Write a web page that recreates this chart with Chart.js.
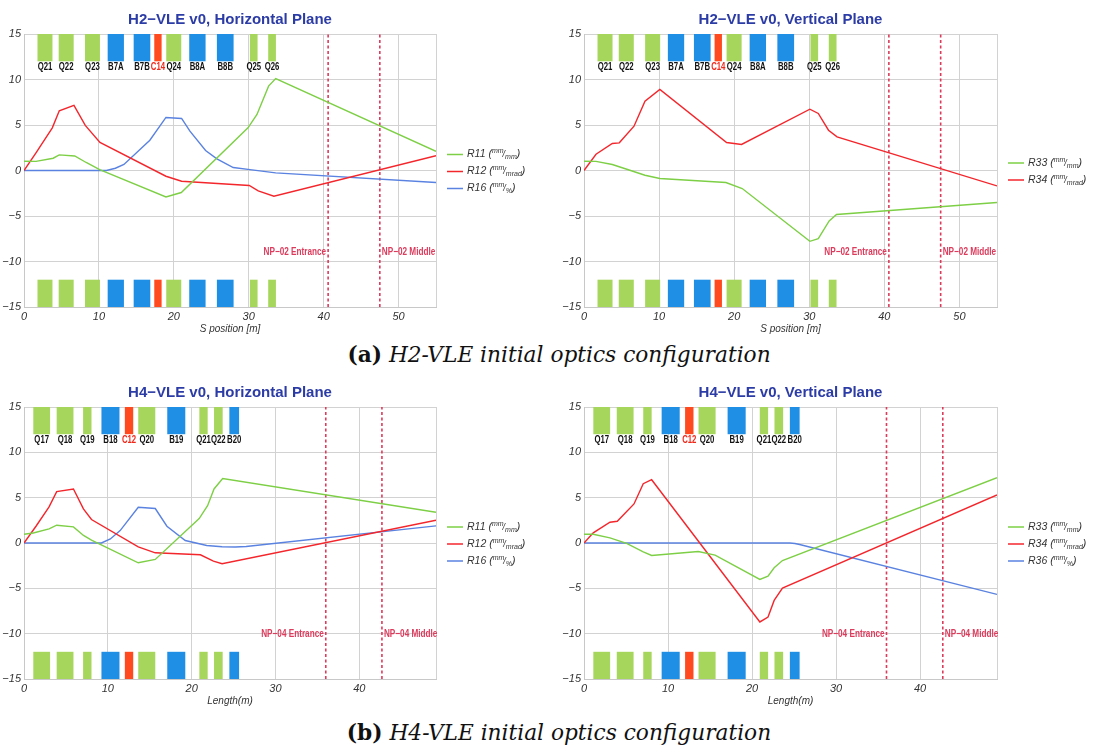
<!DOCTYPE html>
<html>
<head>
<meta charset="utf-8">
<script src="https://cdn.jsdelivr.net/npm/chart.js@4"></script>
<style>
  body { margin: 0; background: #fff; width: 1118px; height: 751px; position: relative; overflow: hidden; }
  canvas { position: absolute; }
  .cap { position: absolute; left: 0; width: 1118px; text-align: center; font-family: "DejaVu Serif", serif; font-size: 21.7px; color: #111; }
  .cap b { font-style: normal; }
  .cap i { font-style: italic; }
</style>
</head>
<body>
<canvas id="h2h" width="560" height="341" style="left:0;top:0"></canvas>
<canvas id="h2v" width="558" height="341" style="left:560px;top:0"></canvas>
<div class="cap" style="top:342px"><b>(a)</b> <i>H2-VLE initial optics configuration</i></div>
<canvas id="h4h" width="560" height="340" style="left:0;top:373px"></canvas>
<canvas id="h4v" width="558" height="340" style="left:560px;top:373px"></canvas>
<div class="cap" style="top:720px"><b>(b)</b> <i>H4-VLE initial optics configuration</i></div>
<script>
// transfer matrix elements along the line, [s (m), value]
var h2hR11 = [[0,1.02],[1.6,1.0],[3.9,1.35],[4.7,1.72],[6.77,1.6],[8.3,0.88],[10.1,0.1],[18.95,-2.9],[21.0,-2.42],[29.9,4.69],[31.1,6.16],[32.65,9.27],[33.6,10.1],[55,2.1]]
var h2hR12 = [[0,0],[1.6,1.94],[3.78,4.69],[4.71,6.56],[6.67,7.15],[8.18,4.95],[10.14,3.08],[18.95,-0.63],[21.04,-1.18],[30.07,-1.65],[31.27,-2.24],[33.36,-2.83],[55,1.62]]
var h2hR16 = [[0,0],[11.0,0],[12.2,0.25],[13.34,0.66],[16.8,3.33],[18.95,5.83],[21.04,5.72],[22.15,4.32],[24.24,2.2],[25.75,1.28],[27.93,0.33],[30.16,0.1],[33.6,-0.26],[55,-1.32]]

var h2vR33 = [[0,1.02],[1.6,1.0],[3.77,0.66],[5.7,0.14],[8.12,-0.52],[10.1,-0.88],[18.9,-1.32],[21.07,-1.98],[30.08,-7.78],[31.2,-7.48],[32.65,-5.54],[33.63,-4.84],[55,-3.52]]
var h2vR34 = [[0,0],[1.6,1.79],[3.77,2.97],[4.7,3.04],[6.66,4.87],[8.12,7.62],[10.1,8.91],[18.99,3.08],[20.98,2.86],[30.08,6.74],[31.2,6.27],[32.56,4.43],[33.7,3.7],[55,-1.69]]

var h4hR11 = [[0,0.97],[1.11,1.1],[2.99,1.56],[3.9,1.96],[5.9,1.78],[7.1,0.83],[8.05,0.31],[13.63,-2.18],[15.66,-1.81],[20.9,2.7],[21.9,4.12],[22.67,5.96],[23.7,7.1],[49.15,3.39]]
var h4hR12 = [[0,0],[1.43,1.85],[2.99,3.98],[3.9,5.67],[5.9,5.96],[7.09,3.76],[8.05,2.59],[13.63,-0.42],[15.66,-1.08],[21.04,-1.3],[22.6,-2.0],[23.63,-2.29],[49.15,2.51]]
var h4hR16 = [[0,0],[9.24,0],[10.3,0.45],[11.47,1.37],[13.63,3.94],[15.66,3.8],[17.05,1.85],[19.24,0.27],[21.8,-0.27],[23.63,-0.42],[25.2,-0.44],[26.5,-0.38],[49.15,1.89]]

var h4vR33 = [[0,0.97],[1.1,0.97],[3.09,0.57],[5.07,-0.05],[7.05,-0.97],[8.05,-1.38],[13.6,-0.94],[15.6,-1.34],[20.93,-4.02],[21.9,-3.65],[22.63,-2.73],[23.62,-1.93],[49.15,7.2]]
var h4vR34 = [[0,0],[1.1,1.12],[3.09,2.29],[3.96,2.4],[5.95,4.31],[7.05,6.54],[8.05,6.98],[20.93,-8.71],[21.9,-8.16],[22.63,-6.33],[23.62,-4.97],[49.15,5.3]]
var h4vR36 = [[0,0],[24.5,0],[25.1,-0.05],[25.66,-0.17],[49.15,-5.67]]

// beamline elements (start / end in m)
var h2MagNames = ['Q21','Q22','Q23','B7A','B7B','C14','Q24','B8A','B8B','Q25','Q26']
var h2MagStart = [1.8,4.63,8.14,11.17,14.64,17.39,18.99,22.06,25.75,30.16,32.6]
var h2MagEnd   = [3.8,6.63,10.14,13.34,16.86,18.37,20.99,24.24,27.98,31.18,33.63]

var h4MagNames = ['Q17','Q18','Q19','B18','C12','Q20','B19','Q21','Q22','B20']
var h4MagStart = [1.11,3.9,7.05,9.24,12.03,13.63,17.09,20.92,22.67,24.5]
var h4MagEnd   = [3.11,5.9,8.05,11.39,13.03,15.66,19.24,21.91,23.7,25.66]

var h2Markers = [40.6, 47.5]
var h2MarkerNames = ['NP−02 Entrance', 'NP−02 Middle']
var h4Markers = [36.0, 42.7]
var h4MarkerNames = ['NP−04 Entrance', 'NP−04 Middle']

var yTicks = [-15, -10, -5, 0, 5, 10, 15]

var GREEN = '#7dcf45', RED = '#f3262c', BLUE = '#5a82e0'
var MAG_COLORS = { Q: '#a6d65c', B: '#1f8fe6', C: '#ff4a20' }
var MARK_COLOR = '#dc3b5c'
var FONT = '"Liberation Sans", Arial, sans-serif'

function series(pts) {
    return pts.map(function (p) { return { x: p[0], y: p[1] } })
}

function minus(v) {
    return v < 0 ? '\u2212' + Math.abs(v) : '' + v
}

// bold label squeezed horizontally, like the condensed type of the element names
function narrowText(ctx, text, x, y, align, sx) {
    ctx.save()
    ctx.translate(x, y)
    ctx.scale(sx, 1)
    ctx.textAlign = align
    ctx.textBaseline = 'middle'
    ctx.fillText(text, 0, 0)
    ctx.restore()
}

// draws the element boxes at top and bottom of the plot, with names under the top row
var magnetPlugin = {
    id: 'magnets',
    beforeDatasetsDraw: function (chart) {
        var m = chart.options.plugins.magnets
        if (!m) return
        var ctx = chart.ctx, xs = chart.scales.x, ys = chart.scales.y
        ctx.save()
        for (var i = 0; i < m.names.length; i++) {
            var x0 = xs.getPixelForValue(m.start[i])
            var x1 = xs.getPixelForValue(m.end[i])
            ctx.fillStyle = MAG_COLORS[m.names[i][0]]
            var t1 = ys.getPixelForValue(15), t2 = ys.getPixelForValue(12)
            var b1 = ys.getPixelForValue(-12), b2 = ys.getPixelForValue(-15)
            ctx.fillRect(x0, t1, x1 - x0, t2 - t1)
            ctx.fillRect(x0, b1, x1 - x0, b2 - b1)
            ctx.font = 'bold 10.5px ' + FONT
            ctx.fillStyle = m.names[i][0] === 'C' ? '#f0281a' : '#111'
            narrowText(ctx, m.names[i], (x0 + x1) / 2, t2 + 6, 'center', 0.74)
        }
        ctx.restore()
    },
    afterDatasetsDraw: function (chart) {
        var mk = chart.options.plugins.markers
        if (!mk) return
        var ctx = chart.ctx, xs = chart.scales.x, ys = chart.scales.y
        ctx.save()
        ctx.font = 'bold 10.5px ' + FONT
        ctx.fillStyle = MARK_COLOR
        var y = ys.getPixelForValue(mk.labelY)
        narrowText(ctx, mk.names[0], xs.getPixelForValue(mk.pos[0]) - 2, y, 'right', 0.78)
        narrowText(ctx, mk.names[1], xs.getPixelForValue(mk.pos[1]) + 2, y, 'left', 0.78)
        ctx.restore()
    },
    afterDraw: function (chart) {
        // legend with unit fractions R11 (mm/mm)
        var ctx = chart.ctx, area = chart.chartArea
        var items = chart.data.datasets.filter(function (d) { return d.unit })
        var cy = (area.top + area.bottom) / 2 + 1
        ctx.save()
        ctx.textBaseline = 'middle'
        ctx.textAlign = 'left'
        items.forEach(function (d, i) {
            var y = cy + (i - (items.length - 1) / 2) * 17
            ctx.strokeStyle = d.borderColor
            ctx.lineWidth = 1.5
            ctx.beginPath()
            ctx.moveTo(area.right + 11, y)
            ctx.lineTo(area.right + 27, y)
            ctx.stroke()
            ctx.fillStyle = '#333'
            var x = area.right + 31
            ctx.font = 'italic 10.5px ' + FONT
            ctx.fillText(d.label + ' (', x, y)
            x += ctx.measureText(d.label + ' (').width
            ctx.font = 'italic 7px ' + FONT
            ctx.fillText(d.unit[0], x, y - 3)
            x += ctx.measureText(d.unit[0]).width
            ctx.font = 'italic 9px ' + FONT
            ctx.fillText('/', x - 1, y)
            x += ctx.measureText('/').width - 1
            ctx.font = 'italic 7px ' + FONT
            ctx.fillText(d.unit[1], x, y + 3)
            x += ctx.measureText(d.unit[1]).width
            ctx.font = 'italic 10.5px ' + FONT
            ctx.fillText(')', x, y)
        })
        ctx.restore()
    }
}

function lineSet(label, unit, pts, color) {
    return {
        label: label, unit: unit, data: series(pts),
        borderColor: color, borderWidth: 1.4, pointRadius: 0, tension: 0, fill: false
    }
}

function markerSet(s) {
    return {
        label: '', data: [{ x: s, y: -15 }, { x: s, y: 15 }],
        borderColor: MARK_COLOR, borderWidth: 1.6, borderDash: [3, 2.5], pointRadius: 0
    }
}

function makePanel(id, title, xMax, xTitle, datasets, mags, markers, markLabelY, rightPad) {
    var ctx = document.getElementById(id).getContext('2d')
    return new Chart(ctx, {
        type: 'line',
        data: { datasets: datasets.concat([markerSet(markers[0]), markerSet(markers[1])]) },
        plugins: [magnetPlugin],
        options: {
            responsive: false,
            animation: false,
            layout: { padding: { left: 0, right: rightPad, top: 0, bottom: 0 } },
            plugins: {
                legend: { display: false },
                tooltip: { enabled: false },
                title: {
                    display: true, text: title, fullSize: false, color: '#2c3ca6',
                    font: { family: FONT, size: 15, weight: 'bold' },
                    padding: { top: 11, bottom: 5 }
                },
                magnets: { names: mags[0], start: mags[1], end: mags[2] },
                markers: { pos: markers, names: markers.names, labelY: markLabelY }
            },
            scales: {
                x: {
                    type: 'linear', min: 0, max: xMax,
                    ticks: {
                        stepSize: 10, autoSkip: false, maxRotation: 0, padding: 3, color: '#333',
                        font: { family: FONT, size: 11, style: 'italic' },
                        callback: function (v) { return v % 10 === 0 ? v : '' }
                    },
                    grid: { color: '#d2d2d2', drawTicks: false },
                    border: { color: '#c8c8c8' },
                    title: {
                        display: true, text: xTitle, color: '#333',
                        font: { family: FONT, size: 10, style: 'italic' },
                        padding: { top: 0, bottom: 6 }
                    },
                    afterFit: function (s) { s.height = 34 }
                },
                y: {
                    min: -15, max: 15,
                    afterBuildTicks: function (s) { s.ticks = yTicks.map(function (v) { return { value: v } }) },
                    ticks: {
                        padding: 3, color: '#333',
                        font: { family: FONT, size: 11, style: 'italic' },
                        callback: minus
                    },
                    grid: { color: '#d2d2d2', drawTicks: false },
                    border: { color: '#c8c8c8' },
                    afterFit: function (s) { s.width = 24 }
                }
            }
        }
    })
}

var h2Mk = h2Markers.slice(); h2Mk.names = h2MarkerNames
var h4Mk = h4Markers.slice(); h4Mk.names = h4MarkerNames

makePanel('h2h', 'H2\u2212VLE v0, Horizontal Plane', 55, 'S position [m]', [
    lineSet('R11', ['mm', 'mm'], h2hR11, GREEN),
    lineSet('R12', ['mm', 'mrad'], h2hR12, RED),
    lineSet('R16', ['mm', '%'], h2hR16, BLUE)
], [h2MagNames, h2MagStart, h2MagEnd], h2Mk, -9, 124)

makePanel('h2v', 'H2\u2212VLE v0, Vertical Plane', 55, 'S position [m]', [
    lineSet('R33', ['mm', 'mm'], h2vR33, GREEN),
    lineSet('R34', ['mm', 'mrad'], h2vR34, RED)
], [h2MagNames, h2MagStart, h2MagEnd], h2Mk, -9, 121)

makePanel('h4h', 'H4\u2212VLE v0, Horizontal Plane', 49.15, 'Length(m)', [
    lineSet('R11', ['mm', 'mm'], h4hR11, GREEN),
    lineSet('R12', ['mm', 'mrad'], h4hR12, RED),
    lineSet('R16', ['mm', '%'], h4hR16, BLUE)
], [h4MagNames, h4MagStart, h4MagEnd], h4Mk, -10, 124)

makePanel('h4v', 'H4\u2212VLE v0, Vertical Plane', 49.15, 'Length(m)', [
    lineSet('R33', ['mm', 'mm'], h4vR33, GREEN),
    lineSet('R34', ['mm', 'mrad'], h4vR34, RED),
    lineSet('R36', ['mm', '%'], h4vR36, BLUE)
], [h4MagNames, h4MagStart, h4MagEnd], h4Mk, -10, 121)
</script>
</body>
</html>
